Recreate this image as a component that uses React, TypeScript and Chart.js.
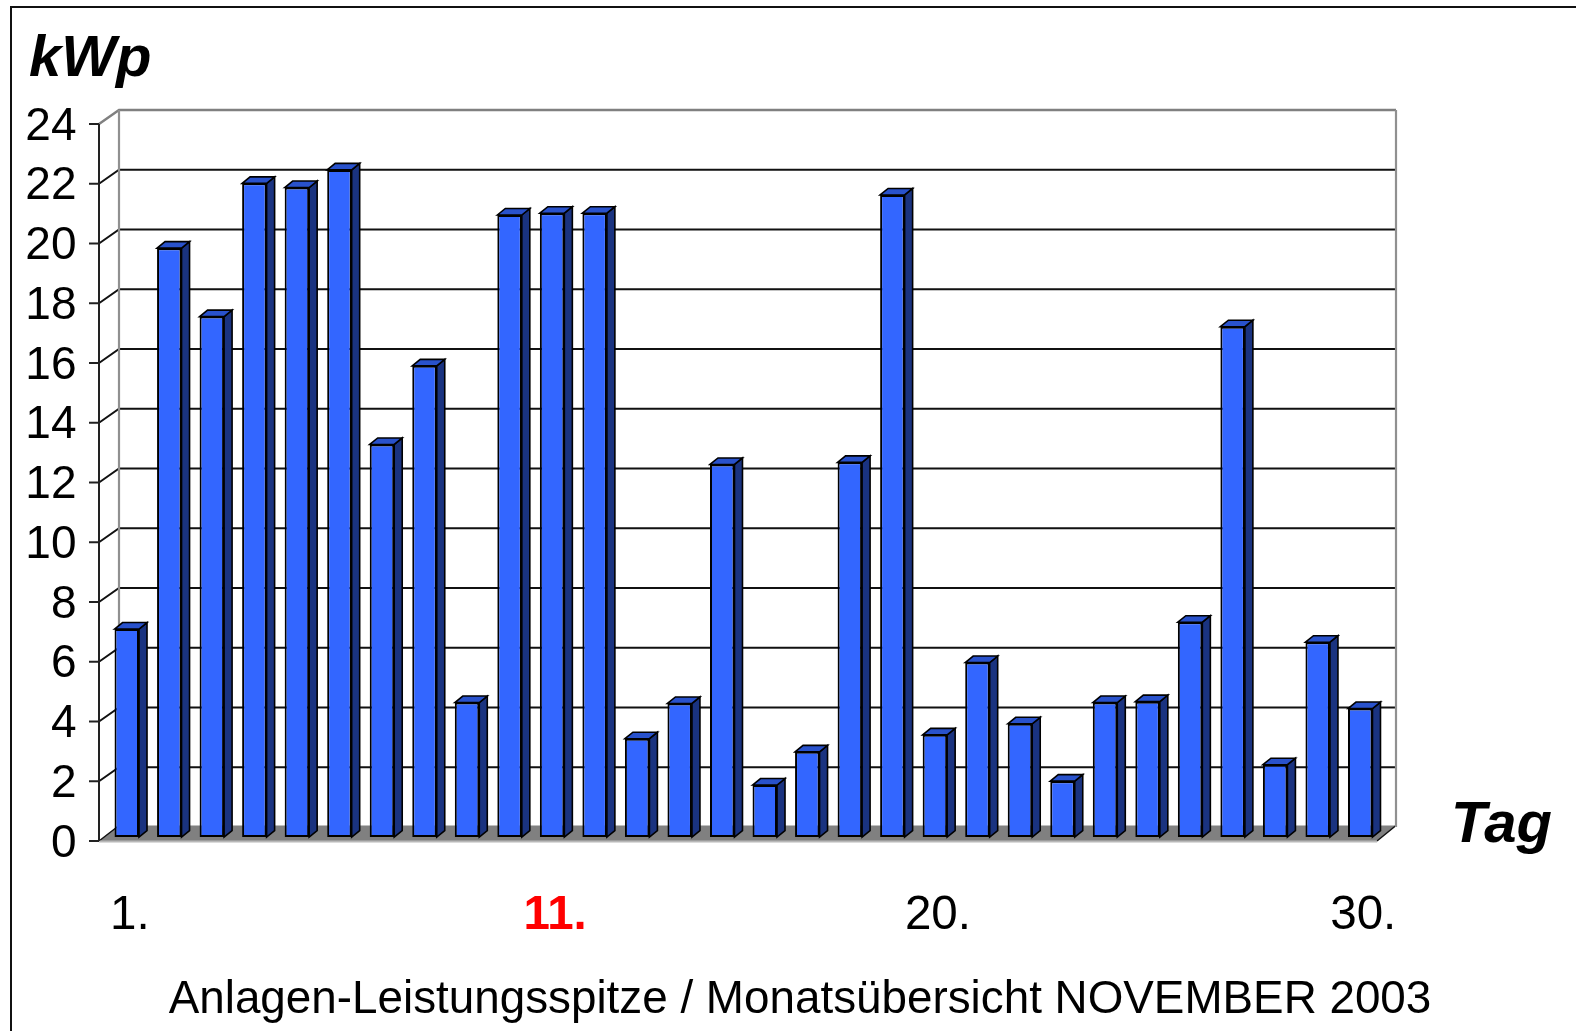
import React, { useEffect, useRef } from "react";
import { Chart, registerables } from "chart.js";

Chart.register(...registerables);

const days = ["1.","2.","3.","4.","5.","6.","7.","8.","9.","10.","11.","12.","13.","14.","15.","16.","17.","18.","19.","20.","21.","22.","23.","24.","25.","26.","27.","28.","29.","30."];
const shownDays = ["1.", "11.", "20.", "30."];
const highlightedDay = "11.";
const peakKwp = [6.96, 19.71, 17.42, 21.88, 21.74, 22.33, 13.14, 15.77, 4.5, 20.82, 20.88, 20.88, 3.29, 4.47, 12.47, 1.74, 2.85, 12.54, 21.49, 3.42, 5.84, 3.79, 1.87, 4.5, 4.53, 7.19, 17.08, 2.42, 6.52, 4.3];
const yAxisTitle = "kWp";
const xAxisTitle = "Tag";
const caption = "Anlagen-Leistungsspitze / Monatsübersicht NOVEMBER 2003";

const FONT = '"Liberation Sans", Arial, sans-serif';
const FRONT = "#3366FF";
const TOP = "#2952CC";
const SIDE = "#1A3380";

const scenePlugin = {
  id: "scene",
  beforeDraw(chart: any) {
    const { ctx } = chart;
    ctx.save();
    ctx.strokeStyle = "#111";
    ctx.lineWidth = 2;
    ctx.beginPath();
    ctx.moveTo(11, 1031);
    ctx.lineTo(11, 7);
    ctx.lineTo(1576, 7);
    ctx.stroke();
    ctx.restore();
  },
  beforeDatasetsDraw(chart: any) {
    const { ctx, chartArea, scales } = chart;
    const y = scales.y;
    const frontL = chartArea.left - 6.5;
    const frontR = chartArea.right - 4.5;
    const backL = chartArea.left + 13.5;
    const backR = chartArea.right + 14.5;
    const fy = (v: number) => y.getPixelForValue(v) + 4;
    const by = (v: number) => y.getPixelForValue(v) - 10;
    ctx.save();
    // floor
    ctx.fillStyle = "#808080";
    ctx.beginPath();
    ctx.moveTo(frontL, fy(0));
    ctx.lineTo(frontR, fy(0));
    ctx.lineTo(backR, by(0) - 1.5);
    ctx.lineTo(backL, by(0) - 1.5);
    ctx.closePath();
    ctx.fill();
    ctx.strokeStyle = "#111";
    ctx.lineWidth = 1.5;
    ctx.beginPath();
    ctx.moveTo(frontL, fy(0));
    ctx.lineTo(backL, by(0) - 1.5);
    ctx.moveTo(frontR, fy(0));
    ctx.lineTo(backR, by(0) - 1.5);
    ctx.stroke();
    ctx.strokeStyle = "#b8b8b8";
    ctx.lineWidth = 2;
    ctx.beginPath();
    ctx.moveTo(frontL, fy(0) + 0.5);
    ctx.lineTo(frontR, fy(0) + 0.5);
    ctx.stroke();
    // grid lines and tick marks
    y.ticks.forEach((t: any) => {
      const v = t.value;
      const isTop = v === y.max;
      if (v !== 0) {
        ctx.strokeStyle = isTop ? "#808080" : "#111";
        ctx.lineWidth = isTop ? 2.5 : 2;
        ctx.beginPath();
        ctx.moveTo(frontL, fy(v));
        ctx.lineTo(backL, by(v));
        ctx.lineTo(backR, by(v));
        ctx.stroke();
      }
      ctx.strokeStyle = "#222";
      ctx.lineWidth = 2;
      ctx.beginPath();
      ctx.moveTo(frontL - 10, fy(v));
      ctx.lineTo(frontL, fy(v));
      ctx.stroke();
    });
    // walls
    ctx.strokeStyle = "#909090";
    ctx.lineWidth = 2.2;
    ctx.beginPath();
    ctx.moveTo(backL, by(y.max));
    ctx.lineTo(backL, by(0));
    ctx.moveTo(backR, by(y.max));
    ctx.lineTo(backR, by(0));
    ctx.stroke();
    ctx.strokeStyle = "#222";
    ctx.lineWidth = 2;
    ctx.beginPath();
    ctx.moveTo(frontL, fy(y.max));
    ctx.lineTo(frontL, fy(0));
    ctx.stroke();
    // bar depth
    const dx = 8;
    const dy = 6.5;
    ctx.lineWidth = 1.6;
    ctx.strokeStyle = "#000";
    ctx.lineJoin = "miter";
    chart.getDatasetMeta(0).data.forEach((bar: any) => {
      const half = bar.width / 2;
      const l = bar.x - half;
      const r = bar.x + half;
      const t = bar.y;
      const b = bar.base;
      ctx.fillStyle = SIDE;
      ctx.beginPath();
      ctx.moveTo(r, t);
      ctx.lineTo(r + dx, t - dy);
      ctx.lineTo(r + dx, b - dy);
      ctx.lineTo(r, b);
      ctx.closePath();
      ctx.fill();
      ctx.stroke();
      ctx.fillStyle = TOP;
      ctx.beginPath();
      ctx.moveTo(l, t);
      ctx.lineTo(l + dx, t - dy);
      ctx.lineTo(r + dx, t - dy);
      ctx.lineTo(r, t);
      ctx.closePath();
      ctx.fill();
      ctx.stroke();
    });
    ctx.restore();
  },
  afterDraw(chart: any) {
    const { ctx } = chart;
    ctx.save();
    ctx.fillStyle = "#000";
    ctx.textBaseline = "alphabetic";
    ctx.textAlign = "left";
    ctx.font = `italic bold 58px ${FONT}`;
    ctx.fillText(yAxisTitle, 29, 76);
    ctx.fillText(xAxisTitle, 1451, 842);
    ctx.font = `45.8px ${FONT}`;
    ctx.textAlign = "center";
    ctx.fillText(caption, 800, 1013);
    ctx.restore();
  },
};

export default function App() {
  const ref = useRef<HTMLCanvasElement>(null);
  useEffect(() => {
    document.body.style.margin = "0";
    const chart = new Chart(ref.current!, {
      type: "bar",
      data: {
        labels: days,
        datasets: [
          {
            data: peakKwp,
            backgroundColor: FRONT,
            borderColor: "#000",
            borderWidth: 2,
            borderSkipped: false,
            categoryPercentage: 1,
            barPercentage: 0.576,
          },
        ],
      },
      options: {
        responsive: false,
        animation: false,
        layout: { padding: { top: 120, right: 194.5, left: 0, bottom: 0 } },
        plugins: { legend: { display: false }, tooltip: { enabled: false } },
        scales: {
          x: {
            grid: { display: false },
            border: { display: false },
            afterFit: (s: any) => {
              s.height = 194;
            },
            ticks: {
              autoSkip: false,
              maxRotation: 0,
              minRotation: 0,
              padding: 42,
              labelOffset: 3,
              callback: (_v: any, i: number) => (shownDays.includes(days[i]) ? days[i] : ""),
              color: (c: any) => (days[c.index] === highlightedDay ? "#FF0000" : "#000"),
              font: (c: any) => ({
                family: FONT,
                size: 47.5,
                weight: days[c.index] === highlightedDay ? "bold" : "normal",
              }),
            },
          },
          y: {
            min: 0,
            max: 24,
            grid: { display: false },
            border: { display: false },
            afterFit: (s: any) => {
              s.width = 105.5;
            },
            ticks: {
              autoSkip: false,
              stepSize: 2,
              padding: 21,
              labelOffset: 7,
              color: "#000",
              font: { family: FONT, size: 46 },
            },
          },
        },
      },
      plugins: [scenePlugin],
    } as any);
    return () => chart.destroy();
  }, []);
  return <canvas ref={ref} width={1576} height={1031} style={{ display: "block" }} />;
}
